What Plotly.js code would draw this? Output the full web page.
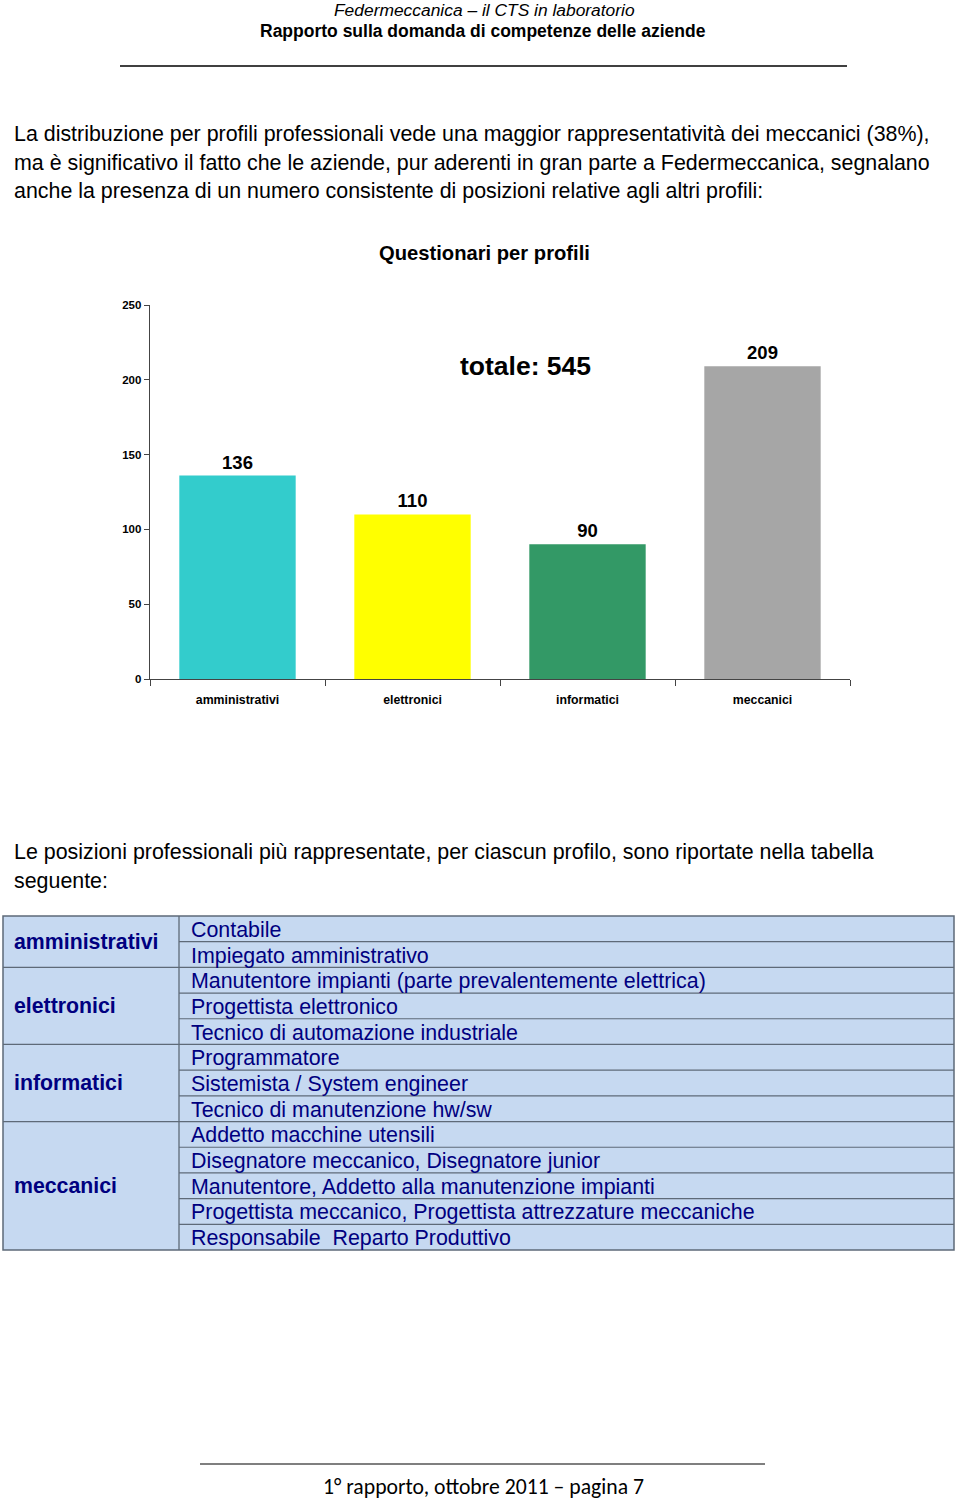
<!DOCTYPE html>
<html>
<head>
<meta charset="utf-8">
<script src="https://cdn.plot.ly/plotly-3.0.1.min.js"></script>
<style>
html,body{margin:0;padding:0;background:#fff;}
#page{width:960px;height:1499px;}
</style>
</head>
<body>
<div id="page"></div>
<script>
// ---- data ----
const profili = ['amministrativi', 'elettronici', 'informatici', 'meccanici'];
const questionari = [136, 110, 90, 209];
const coloriBarre = ['#33CCCC', '#FFFF00', '#339966', '#A6A6A6'];
const yTicks = [0, 50, 100, 150, 200, 250];

const posizioniAmministrativi = ['Contabile', 'Impiegato amministrativo'];
const posizioniElettronici = ['Manutentore impianti (parte prevalentemente elettrica)', 'Progettista elettronico', 'Tecnico di automazione industriale'];
const posizioniInformatici = ['Programmatore', 'Sistemista / System engineer', 'Tecnico di manutenzione hw/sw'];
const posizioniMeccanici = ['Addetto macchine utensili', 'Disegnatore meccanico, Disegnatore junior', 'Manutentore, Addetto alla manutenzione impianti', 'Progettista meccanico, Progettista attrezzature meccaniche', 'Responsabile  Reparto Produttivo'];
const gruppiTabella = [posizioniAmministrativi, posizioniElettronici, posizioniInformatici, posizioniMeccanici];

const intestazione1 = 'Federmeccanica – il CTS in laboratorio';
const intestazione2 = 'Rapporto sulla domanda di competenze delle aziende';
const paragrafo1 = [
  'La distribuzione per profili professionali vede una maggior rappresentatività dei meccanici (38%),',
  'ma è significativo il fatto che le aziende, pur aderenti in gran parte a Federmeccanica, segnalano',
  'anche la presenza di un numero consistente di posizioni relative agli altri profili:'
];
const paragrafo2 = [
  'Le posizioni professionali più rappresentate, per ciascun profilo, sono riportate nella tabella',
  'seguente:'
];
const titoloGrafico = 'Questionari per profili';
const piePagina = '1° rapporto, ottobre 2011 – pagina 7';

// ---- layout helpers ----
const W = 960, H = 1499;
const X = px => px / W;
const Y = py => 1 - py / H;
const NARROW = '"Liberation Sans Narrow", "Arial Narrow", "Liberation Sans", Arial, sans-serif';
const SANS = '"Liberation Sans", Arial, sans-serif';
const CAL = 'Carlito, Calibri, Lato, "Open Sans", sans-serif';
const NAVY = '#000080';

const annotations = [];
const shapes = [];
function txt(text, x, y, size, opts) {
  opts = opts || {};
  annotations.push({
    xref: 'paper', yref: 'paper', x: X(x), y: Y(y), text: text, showarrow: false,
    xanchor: opts.xanchor || 'left', yanchor: 'middle', borderpad: 0,
    font: {family: opts.family || SANS, size: size, color: opts.color || '#000',
           weight: opts.weight || 'normal', style: opts.style || 'normal'}
  });
}

// header
txt(intestazione1, 484, 10, 17.4, {xanchor: 'center', family: NARROW, style: 'italic'});
txt(intestazione2, 483, 31, 17.5, {xanchor: 'center', family: NARROW, weight: 'bold'});
shapes.push({type: 'line', xref: 'paper', yref: 'paper', x0: X(120), x1: X(847), y0: Y(66), y1: Y(66), line: {color: '#000', width: 1.3}});

// paragraph 1
paragrafo1.forEach((l, i) => txt(l, 13, 134 + i * 28.7, 21.4));
// chart title
txt(titoloGrafico, 484, 253, 20.2, {xanchor: 'center', family: NARROW, weight: 'bold'});
// total
const totale = questionari.reduce((a, b) => a + b, 0);
txt('totale: ' + totale, 525, 366, 26.5, {xanchor: 'center', family: NARROW, weight: 'bold'});

// paragraph 2
paragrafo2.forEach((l, i) => txt(l, 13, 852 + i * 29, 21.4));

// table
const tTop = 916, tBot = 1250, tLeft = 3, tMid = 179, tRight = 954;
const nRows = gruppiTabella.reduce((a, g) => a + g.length, 0);
const rowH = (tBot - tTop) / nRows;
shapes.push({type: 'rect', xref: 'paper', yref: 'paper', x0: X(tLeft), x1: X(tRight), y0: Y(tTop), y1: Y(tBot),
  fillcolor: '#C6D9F1', line: {color: '#5E6A78', width: 1.5}, layer: 'below'});
shapes.push({type: 'line', xref: 'paper', yref: 'paper', x0: X(tMid), x1: X(tMid), y0: Y(tTop), y1: Y(tBot), line: {color: '#5E6A78', width: 1.3}});
let r = 0;
gruppiTabella.forEach((g, gi) => {
  const gTop = tTop + r * rowH;
  txt(profili[gi], 13, gTop + g.length * rowH / 2, 21.3, {color: NAVY, weight: 'bold'});
  g.forEach((p, pi) => {
    const yc = tTop + (r + 0.5) * rowH;
    txt(p, 190, yc + 1, 21.4, {color: NAVY});
    r++;
    if (r < nRows) {
      const yl = tTop + r * rowH;
      const groupEnd = pi === g.length - 1;
      shapes.push({type: 'line', xref: 'paper', yref: 'paper', x0: X(groupEnd ? tLeft : tMid), x1: X(tRight), y0: Y(yl), y1: Y(yl), line: {color: '#5E6A78', width: 1.2}});
    }
  });
});

// footer
shapes.push({type: 'line', xref: 'paper', yref: 'paper', x0: X(200), x1: X(765), y0: Y(1464), y1: Y(1464), line: {color: '#000', width: 1.2}});
txt(piePagina, 483, 1486, 21.7, {xanchor: 'center', family: CAL});

const trace = {
  type: 'bar', x: profili, y: questionari,
  marker: {color: coloriBarre, line: {width: 0}},
  text: questionari.map(String), textposition: 'outside', cliponaxis: false,
  textfont: {family: NARROW, size: 18.5, color: '#000', weight: 'bold'},
  hoverinfo: 'none', showlegend: false
};

const layout = {
  width: W, height: H, margin: {l: 0, r: 0, t: 0, b: 0},
  paper_bgcolor: '#fff', plot_bgcolor: '#fff',
  bargap: 0.335,
  xaxis: {domain: [X(150), X(850)], type: 'category', showgrid: false, zeroline: false,
    showline: true, linecolor: '#444', linewidth: 1.3, ticks: 'outside', tickson: 'boundaries',
    ticklen: 6, tickcolor: '#444', tickwidth: 1, ticklabelstandoff: 9,
    tickfont: {family: NARROW, size: 12.3, color: '#000', weight: 'bold'}, fixedrange: true},
  yaxis: {domain: [Y(679), Y(305)], range: [0, 250], tickvals: yTicks, showgrid: false, zeroline: false,
    showline: true, linecolor: '#444', linewidth: 1.3, ticks: 'outside', ticklen: 5, tickcolor: '#444',
    tickfont: {family: NARROW, size: 11.5, color: '#000', weight: 'bold'}, fixedrange: true},
  annotations: annotations, shapes: shapes
};

Plotly.newPlot('page', [trace], layout, {staticPlot: true, displayModeBar: false});
</script>
</body>
</html>
